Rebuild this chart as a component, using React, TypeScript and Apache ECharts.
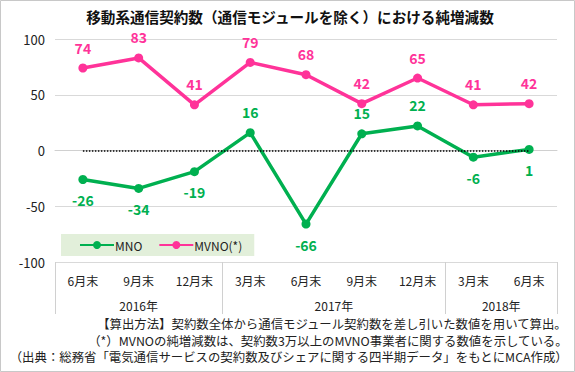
import React, { useEffect, useRef } from "react";
import * as echarts from "echarts";

const months = ["6月末", "9月末", "12月末", "3月末", "6月末", "9月末", "12月末", "3月末", "6月末"];
const years = ["2016年", "2017年", "2018年"];
const yearCenters = [1, 4.5, 7.5];
const yearBounds = [-0.5, 2.5, 6.5, 8.5];
const mno = [-26, -34, -19, 16, -66, 15, 22, -6, 1];
const mvno = [74, 83, 41, 79, 68, 42, 65, 41, 42];
const mnoLabelPos = ["bottom", "bottom", "bottom", "top", "bottom", "top", "top", "bottom", "bottom"];
const title = "移動系通信契約数（通信モジュールを除く）における純増減数";
const notes = [
  "【算出方法】契約数全体から通信モジュール契約数を差し引いた数値を用いて算出。",
  "（*）MVNOの純増減数は、契約数3万以上のMVNO事業者に関する数値を示している。",
  "（出典：総務省「電気通信サービスの契約数及びシェアに関する四半期データ」をもとにMCA作成）",
];

const GREEN = "#00b050";
const PINK = "#ff3399";
const FONT = "'Noto Sans CJK JP', 'Noto Sans', sans-serif";

export default function App() {
  const ref = useRef<HTMLDivElement>(null);
  useEffect(() => {
    document.body.style.margin = "0";
    const chart = echarts.init(ref.current!, null, { renderer: "svg" });
    chart.setOption({
      animation: false,
      backgroundColor: "#fff",
      textStyle: { fontFamily: FONT },
      grid: { left: 55, right: 18, top: 39, bottom: 110, containLabel: false },
      legend: {
        left: 61,
        top: 234,
        width: 207,
        height: 24,
        backgroundColor: "#e2efda",
        padding: [5, 12, 5, 18],
        itemGap: 16,
        itemWidth: 34,
        itemHeight: 10,
        textStyle: { fontSize: 12, color: "#222", fontFamily: FONT, padding: [0, 0, 0, -4] },
        data: ["MNO", "MVNO(*)"],
      },
      xAxis: [
        {
          type: "category",
          data: months,
          position: "bottom",
          axisLine: { show: true, lineStyle: { color: "#d0d0d0" } },
          axisTick: { show: false },
          axisLabel: { color: "#222", fontSize: 12, margin: 12, fontFamily: FONT },
          splitLine: { show: false },
        },
        {
          type: "value",
          min: -0.5,
          max: 8.5,
          position: "bottom",
          axisLine: { show: false },
          axisTick: {
            show: true,
            customValues: yearBounds,
            length: 52,
            lineStyle: { color: "#d0d0d0" },
          },
          axisLabel: {
            show: true,
            customValues: yearCenters,
            margin: 37,
            color: "#222",
            fontSize: 12,
            fontFamily: FONT,
            formatter: (v: number) => {
              const i = yearCenters.indexOf(v);
              return i >= 0 ? years[i] : "";
            },
          },
          splitLine: { show: false },
        },
      ],
      yAxis: {
        type: "value",
        min: -100,
        max: 100,
        interval: 50,
        axisLine: { show: false },
        axisTick: { show: false },
        axisLabel: { color: "#222", fontSize: 13, margin: 10, fontFamily: FONT },
        splitLine: { lineStyle: { color: "#d9d9d9" } },
      },
      series: [
        {
          name: "MNO",
          type: "line",
          data: mno.map((v, i) => ({
            value: v,
            label: { position: mnoLabelPos[i] },
          })),
          color: GREEN,
          lineStyle: { width: 3.5, color: GREEN },
          symbol: "circle",
          symbolSize: 9,
          itemStyle: { color: GREEN },
          label: {
            show: true,
            color: GREEN,
            fontWeight: "bold",
            fontSize: 14,
            distance: 9,
            fontFamily: FONT,
          },
          markLine: {
            silent: true,
            symbol: "none",
            label: { show: false },
            lineStyle: { color: "#000", type: "dotted", width: 1.5 },
            data: [[{ coord: [0, 0] }, { coord: [months.length - 1, 0] }]],
          },
          z: 3,
        },
        {
          name: "MVNO(*)",
          type: "line",
          data: mvno,
          color: PINK,
          lineStyle: { width: 3.5, color: PINK },
          symbol: "circle",
          symbolSize: 9,
          itemStyle: { color: PINK },
          label: {
            show: true,
            position: "top",
            color: PINK,
            fontWeight: "bold",
            fontSize: 14,
            distance: 9,
            fontFamily: FONT,
          },
          z: 2,
        },
      ],
      graphic: [
        {
          type: "rect",
          shape: { x: 0.5, y: 0.5, width: 574, height: 371 },
          style: { fill: "none", stroke: "#c8c8c8", lineWidth: 1 },
          silent: true,
          z: 100,
        },
        {
          type: "text",
          x: 290,
          y: 9,
          style: {
            text: title,
            fontSize: 14.6,
            fontWeight: "bold",
            fill: "#111",
            fontFamily: FONT,
            align: "center",
          },
        },
        ...notes.map((t, i) => ({
          type: "text",
          right: 7,
          top: 318 + i * 16.5,
          style: { text: t, fontSize: 12.4, fill: "#222", fontFamily: FONT, align: "right" },
        })),
      ],
    });
    return () => chart.dispose();
  }, []);
  return (
    <div
      ref={ref}
      style={{ position: "absolute", left: 0, top: 0, width: 575, height: 372 }}
    />
  );
}
